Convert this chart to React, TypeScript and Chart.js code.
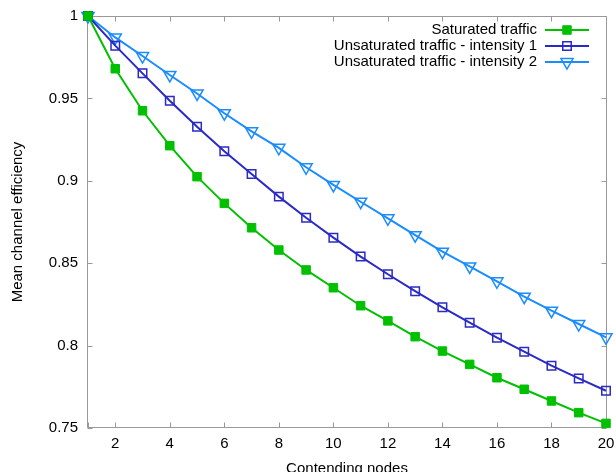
import React, { useEffect, useRef } from 'react';
import { Chart, registerables } from 'chart.js';

Chart.register(...registerables);

const nodes = [1, 2, 3, 4, 5, 6, 7, 8, 9, 10, 11, 12, 13, 14, 15, 16, 17, 18, 19, 20];
const saturated = [1.0, 0.968, 0.9425, 0.9213, 0.9025, 0.8863, 0.8715, 0.858, 0.8459, 0.8351, 0.8242, 0.815, 0.8054, 0.7967, 0.7886, 0.7805, 0.7735, 0.7664, 0.7593, 0.7528];
const unsat1 = [1.0, 0.982, 0.9652, 0.9486, 0.9328, 0.9179, 0.9041, 0.8904, 0.8776, 0.8655, 0.854, 0.8433, 0.833, 0.8232, 0.8139, 0.8048, 0.7963, 0.7878, 0.7801, 0.7726];
const unsat2 = [1.0, 0.987, 0.9757, 0.9642, 0.953, 0.941, 0.93, 0.92, 0.9082, 0.8975, 0.8873, 0.8772, 0.867, 0.857, 0.848, 0.839, 0.8297, 0.8212, 0.8131, 0.805];
const seriesLabels = ['Saturated traffic', 'Unsaturated traffic - intensity 1', 'Unsaturated traffic - intensity 2'];
const xTickValues = [1, 2, 4, 6, 8, 10, 12, 14, 16, 18, 20];
const yTickValues = [0.75, 0.8, 0.85, 0.9, 0.95, 1];
const xTitle = 'Contending nodes';
const yTitle = 'Mean channel efficiency';

const FONT = "'Liberation Sans', Arial, sans-serif";
const FS = 15;

function drawMarker(ctx: CanvasRenderingContext2D, ds: any, x: number, y: number) {
  const r = ds.pointRadius;
  ctx.save();
  ctx.beginPath();
  if (ds.pointStyle === 'rect') {
    const s = r * Math.SQRT1_2;
    ctx.rect(x - s, y - s, 2 * s, 2 * s);
  } else {
    let rad = ((ds.pointRotation || 0) * Math.PI) / 180;
    ctx.moveTo(x + Math.sin(rad) * r, y - Math.cos(rad) * r);
    rad += (2 * Math.PI) / 3;
    ctx.lineTo(x + Math.sin(rad) * r, y - Math.cos(rad) * r);
    rad += (2 * Math.PI) / 3;
    ctx.lineTo(x + Math.sin(rad) * r, y - Math.cos(rad) * r);
    ctx.closePath();
  }
  ctx.fillStyle = ds.pointBackgroundColor;
  ctx.fill();
  ctx.lineWidth = ds.pointBorderWidth;
  ctx.strokeStyle = ds.pointBorderColor;
  ctx.stroke();
  ctx.restore();
}

const framePlugin = {
  id: 'frame',
  beforeDatasetsDraw(chart: any) {
    const { ctx, chartArea: a, scales } = chart;
    const L = a.left - 0.5, R = a.right + 0.5, T = a.top + 0.5, B = a.bottom - 0.5;
    ctx.save();
    ctx.strokeStyle = '#999999';
    ctx.lineWidth = 1;
    ctx.beginPath();
    ctx.rect(L, T, R - L, B - T);
    const tl = 5;
    scales.x.ticks.forEach((t: any) => {
      const px = Math.round(scales.x.getPixelForValue(t.value)) + 0.5;
      ctx.moveTo(px, B);
      ctx.lineTo(px, B - tl);
      ctx.moveTo(px, T);
      ctx.lineTo(px, T + tl);
    });
    scales.y.ticks.forEach((t: any) => {
      const py = Math.round(scales.y.getPixelForValue(t.value)) + 0.5;
      ctx.moveTo(L, py);
      ctx.lineTo(L + tl, py);
      ctx.moveTo(R, py);
      ctx.lineTo(R - tl, py);
    });
    ctx.stroke();
    ctx.restore();
  },
};

const legendPlugin = {
  id: 'gpLegend',
  afterDraw(chart: any) {
    const { ctx, chartArea: a } = chart;
    ctx.save();
    ctx.font = `${FS}px ${FONT}`;
    ctx.textAlign = 'right';
    ctx.textBaseline = 'middle';
    chart.data.datasets.forEach((ds: any, i: number) => {
      const y = a.top + 14 + 16 * i;
      ctx.fillStyle = '#000';
      ctx.fillText(ds.label, a.right - 69, y);
      ctx.beginPath();
      ctx.strokeStyle = ds.borderColor;
      ctx.lineWidth = ds.borderWidth;
      ctx.moveTo(a.right - 61, y);
      ctx.lineTo(a.right - 17, y);
      ctx.stroke();
      drawMarker(ctx, ds, a.right - 39, y);
    });
    ctx.restore();
  },
};

export default function App() {
  const ref = useRef<HTMLCanvasElement | null>(null);

  useEffect(() => {
    if (!ref.current) return;
    Chart.defaults.font.family = FONT;
    Chart.defaults.font.size = FS;
    Chart.defaults.color = '#000';

    const mk = (label: string, values: number[], color: string, style: string, radius: number, fill: string, pbw: number, rot: number) => ({
      label,
      data: nodes.map((n, i) => ({ x: n, y: values[i] })),
      borderColor: color,
      backgroundColor: color,
      borderWidth: 2,
      pointStyle: style,
      pointRadius: radius,
      pointHoverRadius: radius,
      pointBackgroundColor: fill,
      pointBorderColor: color,
      pointBorderWidth: pbw,
      pointRotation: rot,
      tension: 0,
      clip: false as any,
    });

    const chart = new Chart(ref.current, {
      type: 'line',
      data: {
        datasets: [
          mk(seriesLabels[0], saturated, '#00c000', 'rect', 6, '#00c000', 1, 0),
          mk(seriesLabels[1], unsat1, '#2a2ac4', 'rect', 6, 'rgba(0,0,0,0)', 1.5, 0),
          mk(seriesLabels[2], unsat2, '#1a8cff', 'triangle', 7, 'rgba(0,0,0,0)', 1.5, 180),
        ] as any,
      },
      options: {
        animation: false,
        responsive: false,
        devicePixelRatio: 1,
        layout: { padding: { left: 0, right: 10, top: 16, bottom: 0 } },
        plugins: { legend: { display: false }, tooltip: { enabled: false } },
        scales: {
          x: {
            type: 'linear',
            min: 1,
            max: 20,
            afterBuildTicks: (s: any) => {
              s.ticks = xTickValues.map((v) => ({ value: v }));
            },
            afterFit: (s: any) => {
              s.height = 52;
              s.paddingLeft = 0;
              s.paddingRight = 0;
            },
            grid: { display: false, drawTicks: false },
            border: { display: false },
            ticks: {
              autoSkip: false,
              maxRotation: 0,
              padding: 7,
              font: { size: FS },
              callback: (v: any) => (v === 1 ? '' : String(v)),
            },
            title: { display: true, text: xTitle, font: { size: FS }, padding: { top: 0, bottom: 2 } },
          },
          y: {
            type: 'linear',
            min: 0.75,
            max: 1,
            afterBuildTicks: (s: any) => {
              s.ticks = yTickValues.map((v) => ({ value: v }));
            },
            afterFit: (s: any) => {
              s.width = 88;
              s.paddingTop = 0;
              s.paddingBottom = 0;
            },
            grid: { display: false, drawTicks: false },
            border: { display: false },
            ticks: {
              padding: 10,
              font: { size: FS },
              callback: (v: any) => String(Number(Number(v).toFixed(2))),
            },
            title: { display: true, text: yTitle, font: { size: FS }, padding: { top: 9, bottom: 0 } },
          },
        },
      },
      plugins: [framePlugin, legendPlugin],
    });
    return () => chart.destroy();
  }, []);

  return (
    <div style={{ position: 'fixed', left: 0, top: 0, width: 616, height: 472, overflow: 'hidden', background: '#fff' }}>
      <canvas ref={ref} width={616} height={480} style={{ display: 'block' }} />
    </div>
  );
}
